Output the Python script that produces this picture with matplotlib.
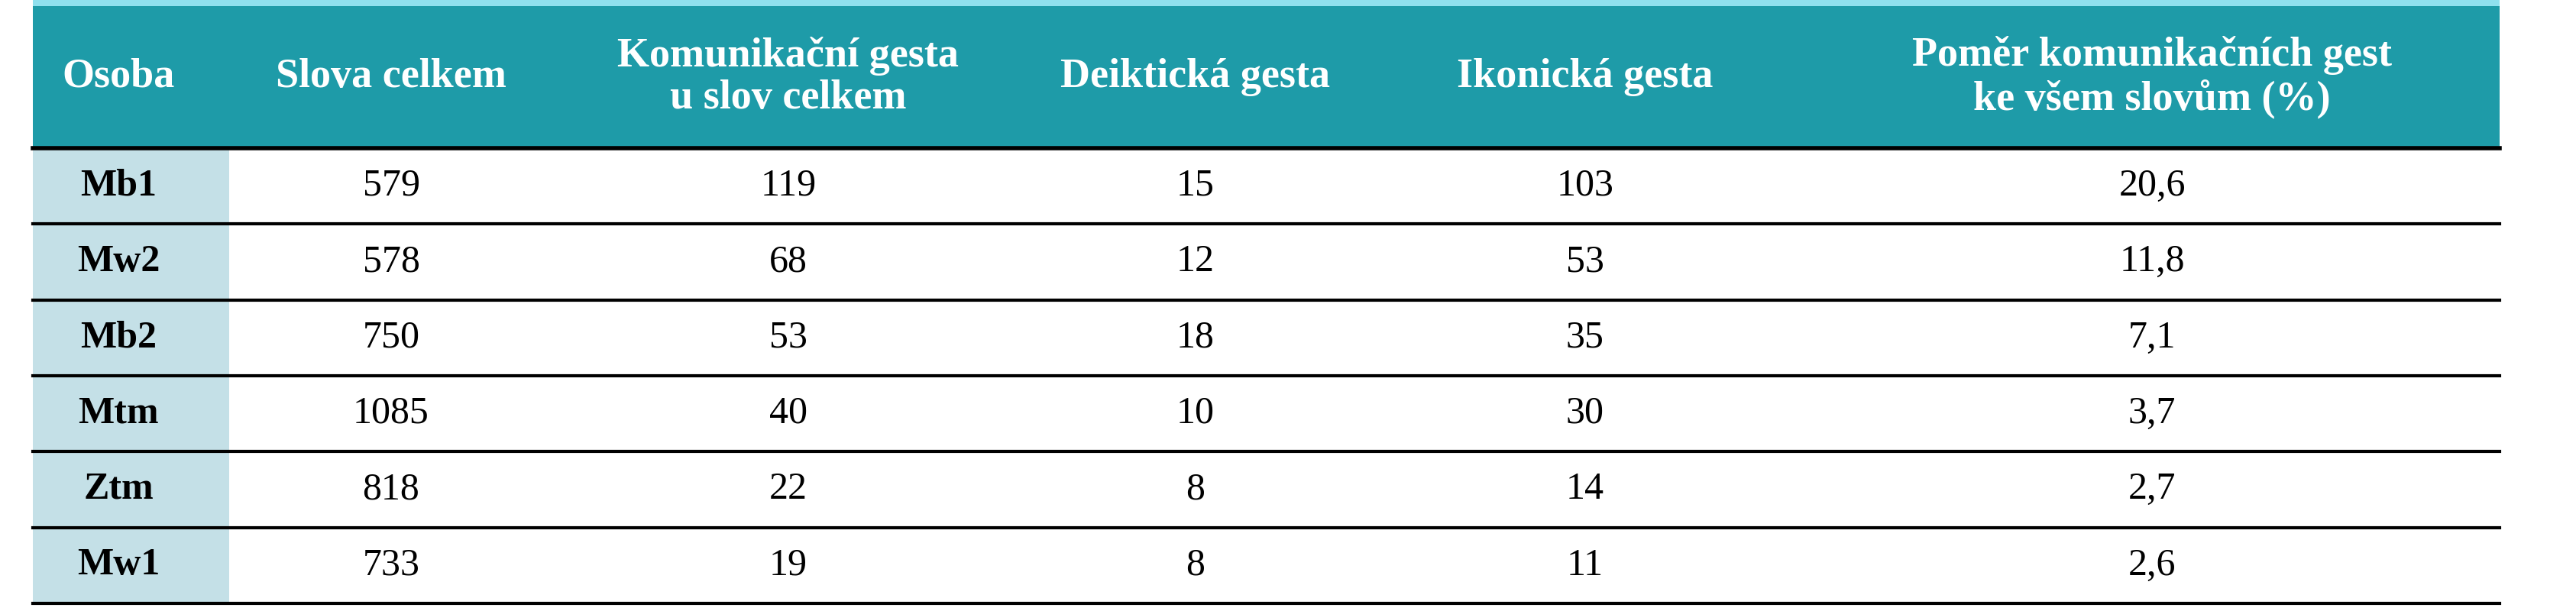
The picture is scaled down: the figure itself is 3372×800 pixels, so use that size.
import matplotlib
matplotlib.use("Agg")
import matplotlib.pyplot as plt
from matplotlib.patches import Rectangle

headers = ["Osoba", "Slova celkem", "Komunikační gesta\nu slov celkem", "Deiktická gesta",
           "Ikonická gesta", "Poměr komunikačních gest\nke všem slovům (%)"]
persons = ["Mb1", "Mw2", "Mb2", "Mtm", "Ztm", "Mw1"]
words = ["579", "578", "750", "1085", "818", "733"]
comm = ["119", "68", "53", "40", "22", "19"]
deict = ["15", "12", "18", "10", "8", "8"]
icon = ["103", "53", "35", "30", "14", "11"]
ratio = ["20,6", "11,8", "7,1", "3,7", "2,7", "2,6"]

W, H = 3372, 800
fig = plt.figure(figsize=(W/100, H/100), dpi=100)
ax = fig.add_axes([0, 0, 1, 1])
ax.set_xlim(0, W); ax.set_ylim(H, 0); ax.axis("off")

left, right = 43, 3272
head_top, head_bot = 8, 194
row_h = (790 - head_bot) / 6
centers = [155, 512, 1032, 1565, 2075, 2817]
first_col_right = 300
teal = "#1e9ba8"
light = "#c4e0e7"
fam = ["Liberation Serif", "DejaVu Serif"]

ax.add_patch(Rectangle((left, 0), right - left, head_top, color="#8fe0ee", lw=0))
ax.add_patch(Rectangle((left, head_top), right - left, head_bot - head_top, color=teal, lw=0))
for c, h in zip(centers, headers):
    ax.text(c, (head_top + head_bot) / 2, h, ha="center", va="center", color="white",
            fontsize=39, fontweight="bold", family=fam, linespacing=1.15)

cols = [persons, words, comm, deict, icon, ratio]
for i in range(6):
    y0 = head_bot + i * row_h
    ax.add_patch(Rectangle((left, y0), first_col_right - left, row_h, color=light, lw=0))
    for j, col in enumerate(cols):
        ax.text(centers[j], y0 + row_h / 2, col[i], ha="center", va="center", color="black",
                fontsize=36, fontweight="bold" if j == 0 else "normal", family=fam)
    ax.plot([left, right], [y0 + row_h, y0 + row_h], color="black", lw=3)
ax.plot([left, right], [head_bot, head_bot], color="black", lw=4)

fig.savefig("out.png", dpi=100, facecolor="white")
